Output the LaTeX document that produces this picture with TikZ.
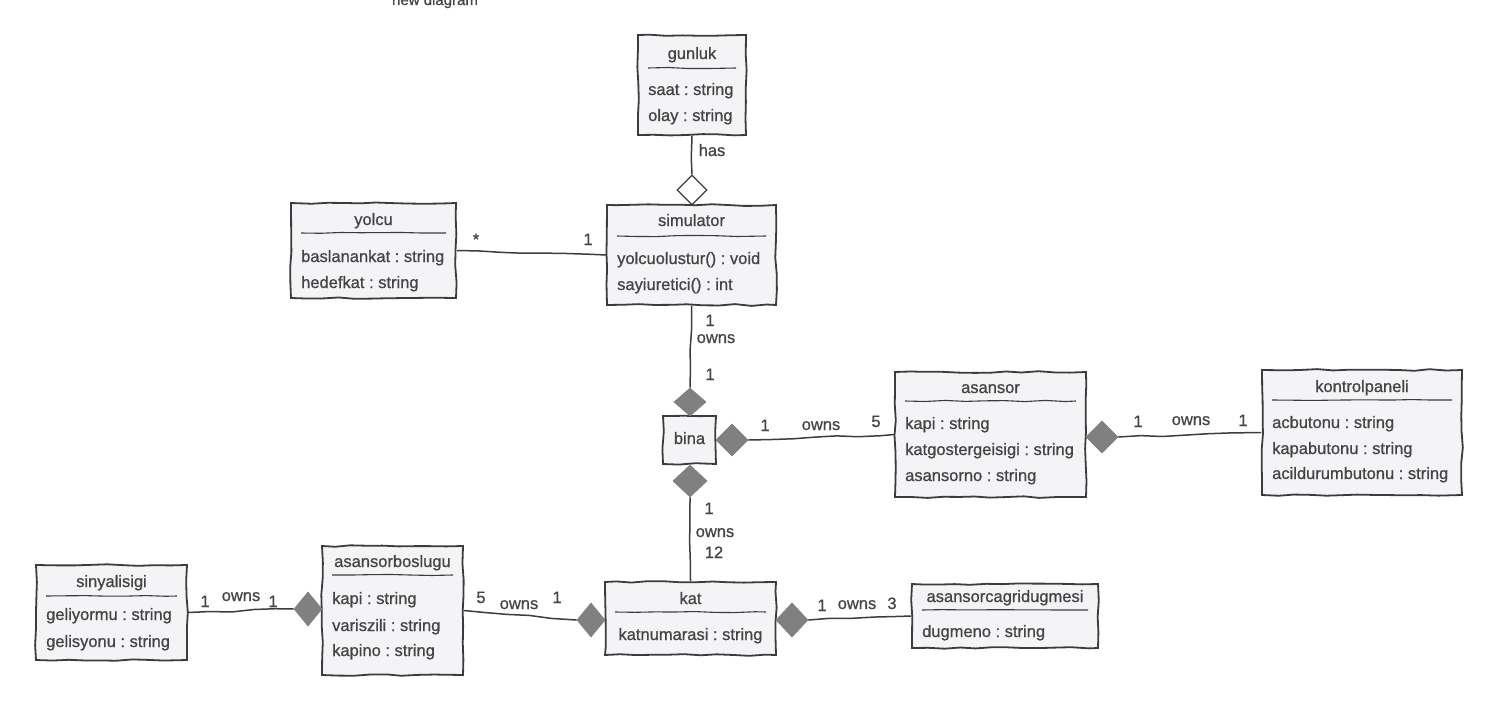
\documentclass[tikz,border=0pt]{standalone}
\usepackage{fontspec}
\setmainfont[FakeBold=0.8]{Liberation Sans}
\usetikzlibrary{shapes.geometric,decorations.pathmorphing}
\definecolor{inkc}{HTML}{3C3C3C}
\definecolor{txtc}{HTML}{444444}
\definecolor{boxfill}{HTML}{F4F4F6}
\definecolor{diamc}{HTML}{808080}
\newcommand{\umlfont}{\fontsize{16.5}{19}\selectfont\frenchspacing}

\begin{document}
\begin{tikzpicture}[x=1pt,y=-1pt,
  umlbox/.style={draw=inkc, fill=boxfill, line width=1.8pt, rectangle, inner sep=0pt,
    decorate, decoration={random steps,segment length=16pt,amplitude=0.9pt}},
  sepline/.style={draw=inkc, line width=1.1pt,
    decorate, decoration={random steps,segment length=20pt,amplitude=0.6pt}},
  ctitle/.style={font=\umlfont, text=txtc, inner sep=0pt, text height=11.5pt, text depth=3.5pt},
  cattr/.style={ctitle, anchor=west},
  mlt/.style={ctitle},
  assoc/.style={draw=inkc, line width=1.5pt,
    decorate, decoration={random steps,segment length=22pt,amplitude=0.9pt}},
  compd/.style={diamond, fill=diamc, draw=diamc, line width=0.8pt, inner sep=0pt},
  aggd/.style={diamond, fill=white, draw=inkc, line width=1.3pt, inner sep=0pt},
]
\pgfmathsetseed{7}
\useasboundingbox (0,0) rectangle (1499,709);

\node[font=\fontsize{15}{18}\selectfont, text=txtc, anchor=base] (title) at (435,5) {new diagram};

% gunluk
\node[umlbox, minimum width=108pt, minimum height=100pt] (gunluk) at (692,85) {};
\node[ctitle] (gunlukT) at (692,55) {gunluk};
\draw[sepline] (648,68) -- (736,68);
\node[cattr] (gunlukA1) at (648,91) {saat : string};
\node[cattr] (gunlukA2) at (648,117) {olay : string};

% simulator
\node[umlbox, minimum width=169pt, minimum height=100pt] (sim) at (691.5,255) {};
\node[ctitle] (simT) at (691.5,222) {simulator};
\draw[sepline] (617,236) -- (766,236);
\node[cattr] (simA1) at (617,260) {yolcuolustur() : void};
\node[cattr] (simA2) at (617,286) {sayiuretici() : int};

% yolcu
\node[umlbox, minimum width=165pt, minimum height=95pt] (yolcu) at (373.5,250.5) {};
\node[ctitle] (yolcuT) at (373.5,221) {yolcu};
\draw[sepline] (301,233) -- (446,233);
\node[cattr] (yolcuA1) at (301,258) {baslanankat : string};
\node[cattr] (yolcuA2) at (301,284) {hedefkat : string};

% bina
\node[umlbox, minimum width=53pt, minimum height=48pt] (bina) at (689.5,440) {};
\node[ctitle] (binaT) at (689.5,440) {bina};

% asansor
\node[umlbox, minimum width=191pt, minimum height=125pt] (asansor) at (990.5,434.5) {};
\node[ctitle] (asansorT) at (990.5,389) {asansor};
\draw[sepline] (905,401) -- (1076,401);
\node[cattr] (asansorA1) at (905,425) {kapi : string};
\node[cattr] (asansorA2) at (905,451) {katgostergeisigi : string};
\node[cattr] (asansorA3) at (905,477) {asansorno : string};

% kontrolpaneli
\node[umlbox, minimum width=200pt, minimum height=125pt] (kontrol) at (1362,432.5) {};
\node[ctitle] (kontrolT) at (1362,388) {kontrolpaneli};
\draw[sepline] (1272,400) -- (1452,400);
\node[cattr] (kontrolA1) at (1272,424) {acbutonu : string};
\node[cattr] (kontrolA2) at (1272,450) {kapabutonu : string};
\node[cattr] (kontrolA3) at (1272,475) {acildurumbutonu : string};

% kat
\node[umlbox, minimum width=171pt, minimum height=73pt] (kat) at (690.5,618.5) {};
\node[ctitle] (katT) at (690.5,600) {kat};
\draw[sepline] (615,612) -- (766,612);
\node[ctitle] (katA1) at (690.5,636) {katnumarasi : string};

% asansorcagridugmesi
\node[umlbox, minimum width=186pt, minimum height=64pt] (acd) at (1005,616) {};
\node[ctitle] (acdT) at (1005,598) {asansorcagridugmesi};
\draw[sepline] (922,610) -- (1088,610);
\node[cattr] (acdA1) at (922,633) {dugmeno : string};

% asansorboslugu
\node[umlbox, minimum width=141pt, minimum height=129pt] (asb) at (392.5,610.5) {};
\node[ctitle] (asbT) at (392.5,563) {asansorboslugu};
\draw[sepline] (332,575) -- (453,575);
\node[cattr] (asbA1) at (332,600) {kapi : string};
\node[cattr] (asbA2) at (332,627) {variszili : string};
\node[cattr] (asbA3) at (332,652) {kapino : string};

% sinyalisigi
\node[umlbox, minimum width=151pt, minimum height=95pt] (sinyal) at (111.5,612.5) {};
\node[ctitle] (sinyalT) at (111.5,583) {sinyalisigi};
\draw[sepline] (46,596) -- (177,596);
\node[cattr] (sinyalA1) at (46,616) {geliyormu : string};
\node[cattr] (sinyalA2) at (46,643) {gelisyonu : string};

% diamonds
\node[aggd, minimum width=30pt, minimum height=30pt] (hasD) at (692,190) {};
\node[compd, minimum width=32pt, minimum height=28pt] (binaTopD) at (690,402) {};
\node[compd, minimum width=32pt, minimum height=32pt] (binaRightD) at (732,440) {};
\node[compd, minimum width=34pt, minimum height=32pt] (binaBotD) at (690,481) {};
\node[compd, minimum width=32pt, minimum height=32pt] (asansorD) at (1102,437) {};
\node[compd, minimum width=28pt, minimum height=34pt] (katLeftD) at (591,620) {};
\node[compd, minimum width=32pt, minimum height=34pt] (katRightD) at (792,620) {};
\node[compd, minimum width=28pt, minimum height=34pt] (asbD) at (308,609) {};

% connectors
\draw[assoc] (gunluk.south) -- (hasD.north);
\draw[assoc] (yolcu.east) -- (sim.west);
\draw[assoc] (sim.south) -- (binaTopD.north);
\draw[assoc] (binaRightD.east) -- (asansor.west);
\draw[assoc] (asansorD.east) -- (kontrol.west);
\draw[assoc] (binaBotD.south) -- (kat.north);
\draw[assoc] (asb.east) -- (katLeftD.west);
\draw[assoc] (katRightD.east) -- (acd.west);
\draw[assoc] (sinyal.east) -- (asbD.west);

% connector texts
\node[mlt] (hasL) at (712,152) {has};
\node[mlt] (yolcuM) at (476,241) {*};
\node[mlt] (simM) at (588,241) {1};
\node[mlt] (simBinaM1) at (710,322) {1};
\node[mlt] (simBinaL) at (716,339) {owns};
\node[mlt] (simBinaM2) at (710,376) {1};
\node[mlt] (binaAsM1) at (765,427) {1};
\node[mlt] (binaAsL) at (821,426) {owns};
\node[mlt] (binaAsM2) at (876,423) {5};
\node[mlt] (asKpM1) at (1138,423) {1};
\node[mlt] (asKpL) at (1191,421) {owns};
\node[mlt] (asKpM2) at (1243,422) {1};
\node[mlt] (binaKatM1) at (709,510) {1};
\node[mlt] (binaKatL) at (715,533) {owns};
\node[mlt] (binaKatM2) at (714,554) {12};
\node[mlt] (asbKatM1) at (481,599) {5};
\node[mlt] (asbKatL) at (519,605) {owns};
\node[mlt] (asbKatM2) at (557,599) {1};
\node[mlt] (katAcdM1) at (822,607) {1};
\node[mlt] (katAcdL) at (857,605) {owns};
\node[mlt] (katAcdM2) at (892,605) {3};
\node[mlt] (sinAsbM1) at (205,603) {1};
\node[mlt] (sinAsbL) at (241,597) {owns};
\node[mlt] (sinAsbM2) at (273,603) {1};
\end{tikzpicture}
\end{document}
